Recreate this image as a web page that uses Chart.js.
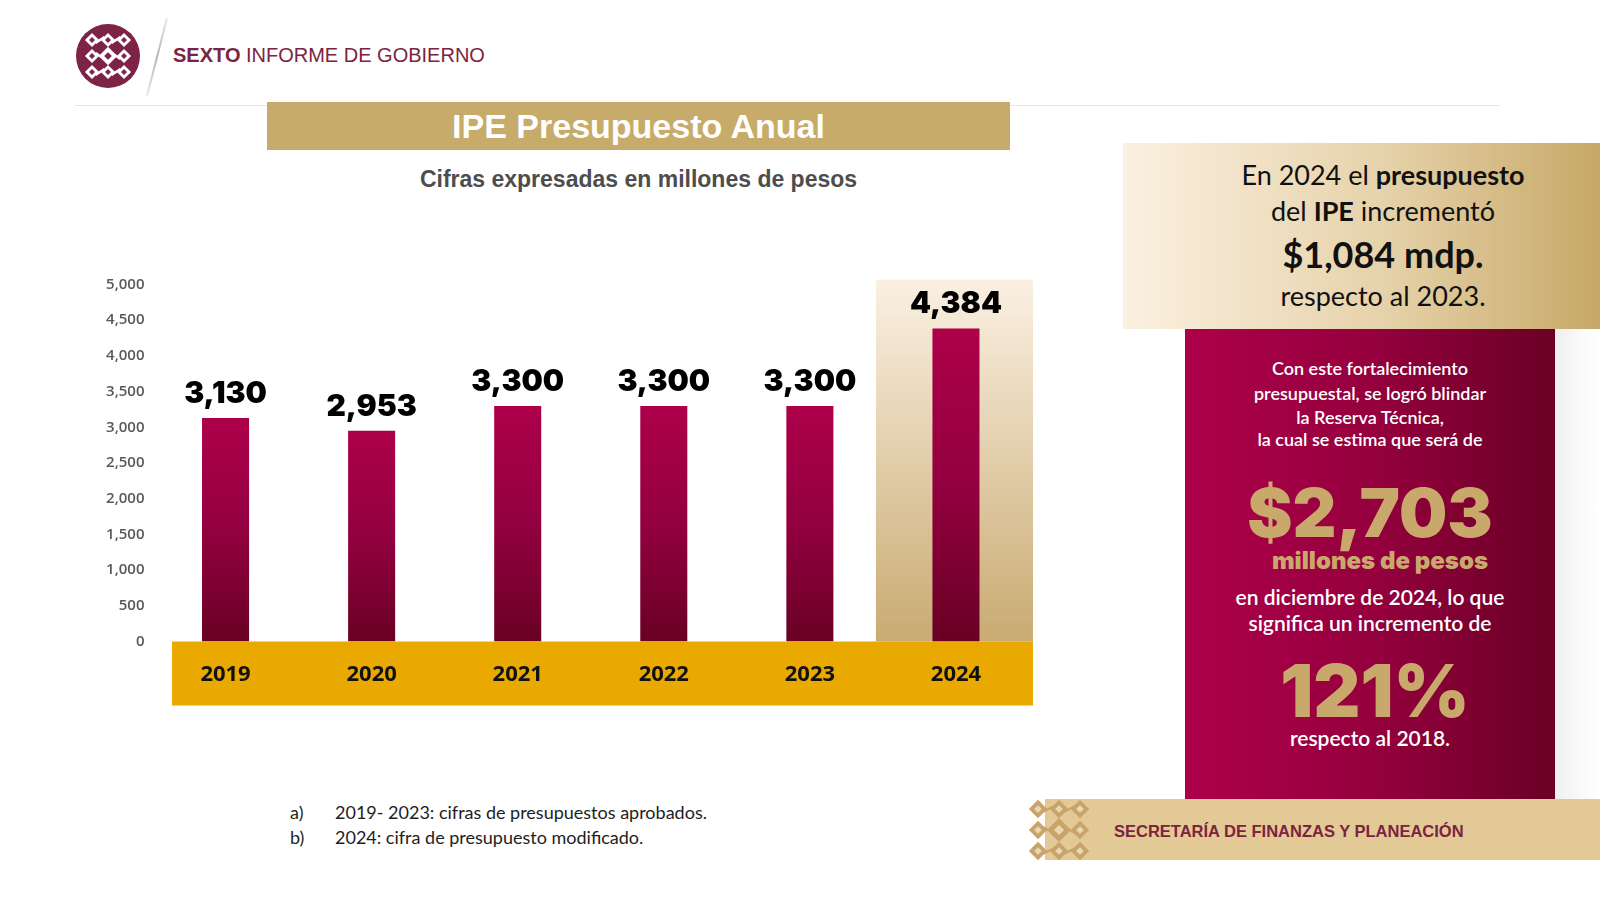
<!DOCTYPE html>
<html lang="es">
<head>
<meta charset="utf-8">
<title>IPE Presupuesto Anual</title>
<script src="https://cdn.jsdelivr.net/npm/chart.js@4.4.1/dist/chart.umd.min.js"></script>
<style>
  html, body { margin: 0; padding: 0; background: #fff; }
  body { width: 1600px; height: 900px; position: relative; overflow: hidden; font-family: "Liberation Sans", Arial, sans-serif; }
  .abs { position: absolute; white-space: nowrap; }
  .c { text-align: center; }
  .lato { font-family: Lato, "Open Sans", sans-serif; }
  .black { font-family: Inter, "DejaVu Sans", sans-serif; font-weight: 900; }
  #chartBox { position: absolute; left: 80px; top: 260px; width: 980px; height: 460px; }
</style>
</head>
<body>

<!-- encabezado -->
<svg class="abs" style="left:0;top:0" width="200" height="110">
  <defs>
    <linearGradient id="slash" x1="0" y1="0" x2="0" y2="1">
      <stop offset="0" stop-color="#e8e8e8"/>
      <stop offset="0.5" stop-color="#b5b5b5"/>
      <stop offset="1" stop-color="#e8e8e8"/>
    </linearGradient>
  </defs>
  <circle cx="108" cy="56" r="32" fill="#7d2446"/>
  <g id="logoPat" fill="#fff"></g>
  <line x1="167" y1="18" x2="147" y2="96" stroke="url(#slash)" stroke-width="2"/>
</svg>
<div class="abs" style="left:173px;top:43px;font-size:20px;line-height:24px;color:#7b2340;"><b>SEXTO</b> INFORME DE GOBIERNO</div>
<div class="abs" style="left:75px;top:105px;width:1425px;height:1px;background:#e6e6e6;"></div>

<!-- titulo -->
<div class="abs c" style="left:267px;top:102px;width:743px;height:48px;line-height:48px;background:#c7ab6a;color:#fff;font-weight:bold;font-size:34px;">IPE Presupuesto Anual</div>
<div class="abs c" style="left:267px;top:164px;width:743px;line-height:30px;font-size:23px;font-weight:bold;color:#4d4d4d;">Cifras expresadas en millones de pesos</div>

<div id="chartBox"><canvas id="grafica" width="980" height="460"></canvas></div>

<!-- notas -->
<div class="abs lato" style="left:290px;top:800px;font-size:18px;line-height:24px;color:#1e1e1e;">a)</div>
<div class="abs lato" style="left:335px;top:800px;font-size:18px;line-height:24px;color:#1e1e1e;">2019- 2023: cifras de presupuestos aprobados.</div>
<div class="abs lato" style="left:290px;top:825px;font-size:18px;line-height:24px;color:#1e1e1e;">b)</div>
<div class="abs lato" style="left:335px;top:825px;font-size:18px;line-height:24px;color:#1e1e1e;">2024: cifra de presupuesto modificado.</div>

<!-- panel derecho -->
<div class="abs" style="left:1123px;top:143px;width:477px;height:186px;background:linear-gradient(to right,#fbf1e1,#e6d2aa 55%,#c6a766);"></div>
<div class="abs lato c" style="left:1123px;width:520px;top:160px;font-size:27px;line-height:30px;color:#111;">En 2024 el <b>presupuesto</b></div>
<div class="abs lato c" style="left:1123px;width:520px;top:196px;font-size:27px;line-height:30px;color:#111;">del <b>IPE</b> incrementó</div>
<div class="abs lato c" style="left:1123px;width:520px;top:234px;font-size:36px;line-height:40px;color:#111;font-weight:bold;">$1,084 mdp.</div>
<div class="abs lato c" style="left:1123px;width:520px;top:281px;font-size:27px;line-height:30px;color:#111;">respecto al 2023.</div>

<div class="abs" style="left:1555px;top:329px;width:45px;height:471px;background:linear-gradient(to right,#efefef,#fafafa 60%,#fff);"></div>
<div class="abs" style="left:1185px;top:329px;width:370px;height:471px;background:linear-gradient(to right,#ad0049,#96003f 50%,#6a0024);"></div>
<div class="abs lato c" style="left:1185px;width:370px;top:357px;font-size:18px;line-height:22px;color:#fff;font-weight:600;">Con este fortalecimiento</div>
<div class="abs lato c" style="left:1185px;width:370px;top:382px;font-size:18px;line-height:22px;color:#fff;font-weight:600;">presupuestal, se logró blindar</div>
<div class="abs lato c" style="left:1185px;width:370px;top:406px;font-size:18px;line-height:22px;color:#fff;font-weight:600;">la Reserva Técnica,</div>
<div class="abs lato c" style="left:1185px;width:370px;top:428px;font-size:18px;line-height:22px;color:#fff;font-weight:600;">la cual se estima que será de</div>
<div class="abs black c" style="left:1185px;width:370px;top:472px;font-size:68px;line-height:80px;color:#c9a96b;">$2,703</div>
<div class="abs black c" style="left:1195px;width:370px;top:547px;font-size:24px;line-height:28px;color:#c9a96b;">millones de pesos</div>
<div class="abs lato c" style="left:1185px;width:370px;top:584px;font-size:21px;line-height:26px;color:#fff;font-weight:600;">en diciembre de 2024, lo que</div>
<div class="abs lato c" style="left:1185px;width:370px;top:610px;font-size:21px;line-height:26px;color:#fff;font-weight:600;">significa un incremento de</div>
<div class="abs black c" style="left:1190px;width:370px;top:649px;font-size:73px;line-height:84px;color:#c9a96b;">121%</div>
<div class="abs lato c" style="left:1185px;width:370px;top:725px;font-size:21px;line-height:26px;color:#fff;font-weight:600;">respecto al 2018.</div>

<!-- pie -->
<div class="abs" style="left:1045px;top:799px;width:555px;height:61px;background:#e2c996;"></div>
<svg class="abs" style="left:1022px;top:797px" width="74" height="66"><g id="piePat"></g></svg>
<div class="abs" style="left:1114px;top:820px;font-size:16.5px;line-height:22px;font-weight:bold;color:#7b2340;">SECRETARÍA DE FINANZAS Y PLANEACIÓN</div>

<script>
const years = ['2019', '2020', '2021', '2022', '2023', '2024'];
const presupuesto = [3130, 2953, 3300, 3300, 3300, 4384];
const yMin = 0;
const yMax = 5000;
const yStep = 500;
const resaltado = 5; // indice del 2024

// patron de rombos para los logos
function rombos(g, cx, cy, paso, tam, color, hueco) {
  const ns = 'http://www.w3.org/2000/svg';
  for (let i = -1; i <= 1; i++) {
    for (let j = -1; j <= 1; j++) {
      const x = cx + i * paso, y = cy + j * paso;
      const grande = (i === 0 && j === 0) ? 1.3 : 1;
      const r = document.createElementNS(ns, 'rect');
      const s = tam * grande;
      r.setAttribute('x', x - s / 2); r.setAttribute('y', y - s / 2);
      r.setAttribute('width', s); r.setAttribute('height', s);
      r.setAttribute('fill', color);
      r.setAttribute('transform', `rotate(45 ${x} ${y})`);
      g.appendChild(r);
      const h = document.createElementNS(ns, 'rect');
      const s2 = s * 0.42;
      h.setAttribute('x', x - s2 / 2); h.setAttribute('y', y - s2 / 2);
      h.setAttribute('width', s2); h.setAttribute('height', s2);
      h.setAttribute('fill', hueco);
      h.setAttribute('transform', `rotate(45 ${x} ${y})`);
      g.appendChild(h);
    }
  }
  for (let i = -1; i <= 0; i++) {
    for (let j = -1; j <= 1; j++) {
      const l = document.createElementNS(ns, 'line');
      l.setAttribute('x1', cx + i * paso + tam * 0.35); l.setAttribute('y1', cy + j * paso + (j % 2 ? 3 : -3));
      l.setAttribute('x2', cx + (i + 1) * paso - tam * 0.35); l.setAttribute('y2', cy + j * paso - (j % 2 ? 3 : -3));
      l.setAttribute('stroke', color); l.setAttribute('stroke-width', 2.5);
      g.appendChild(l);
    }
  }
}
rombos(document.getElementById('logoPat'), 108, 56, 16, 10, '#fff', '#7d2446');
rombos(document.getElementById('piePat'), 37, 33, 21, 13, '#c9a46a', '#e8d7b3');

Chart.defaults.font.family = '"Open Sans", sans-serif';

// fondo dorado de los años y recuadro del 2024
const fondos = {
  id: 'fondos',
  beforeDraw(chart) {
    const { ctx, chartArea, scales } = chart;
    const xs = scales.x, ys = scales.y;
    const bandaIzq = chartArea.left + 19.5;
    const bandaDer = chartArea.right + 4;
    ctx.save();
    ctx.fillStyle = '#eaa900';
    ctx.fillRect(bandaIzq, chartArea.bottom, bandaDer - bandaIzq, 64);
    const cx = xs.getPixelForValue(resaltado);
    const top = ys.getPixelForValue(yMax) - 5;
    const g = ctx.createLinearGradient(0, top, 0, chartArea.bottom);
    g.addColorStop(0, '#faf0e2');
    g.addColorStop(1, '#c9ab72');
    ctx.fillStyle = g;
    ctx.fillRect(cx - 80, top, bandaDer - (cx - 80), chartArea.bottom - top);
    ctx.restore();
  }
};

// etiquetas de valor sobre las barras
const etiquetas = {
  id: 'etiquetas',
  afterDatasetsDraw(chart) {
    const { ctx } = chart;
    const meta = chart.getDatasetMeta(0);
    ctx.save();
    ctx.font = '900 30px Inter, "DejaVu Sans", sans-serif';
    ctx.fillStyle = '#000';
    ctx.textAlign = 'center';
    ctx.textBaseline = 'alphabetic';
    meta.data.forEach((bar, i) => {
      ctx.fillText(presupuesto[i].toLocaleString('en-US'), bar.x, bar.y - 15);
    });
    ctx.restore();
  }
};

function colorBarra(context) {
  const chart = context.chart;
  if (!chart.chartArea || context.type !== 'data') return '#9a0040';
  const ys = chart.scales.y;
  const top = ys.getPixelForValue(context.raw);
  const bottom = ys.getPixelForValue(0);
  const g = chart.ctx.createLinearGradient(0, top, 0, bottom);
  g.addColorStop(0, '#ad004a');
  g.addColorStop(0.5, '#930040');
  g.addColorStop(1, '#690024');
  return g;
}

new Chart(document.getElementById('grafica'), {
  type: 'bar',
  data: {
    labels: years,
    datasets: [{
      label: 'Presupuesto',
      data: presupuesto,
      backgroundColor: colorBarra,
      borderWidth: 0,
      categoryPercentage: 1,
      barPercentage: 0.322
    }]
  },
  options: {
    responsive: false,
    animation: false,
    layout: { padding: { left: 0, right: 31, top: 24.5, bottom: 14.5 } },
    plugins: {
      legend: { display: false },
      tooltip: { enabled: false }
    },
    scales: {
      x: {
        grid: { display: false, drawTicks: false },
        border: { display: false },
        ticks: {
          color: '#111',
          font: { size: 22, weight: 'bold' },
          padding: 20
        },
        afterFit(scale) { scale.height = 64; }
      },
      y: {
        min: yMin,
        max: yMax,
        grid: { display: false, drawTicks: false },
        border: { display: false },
        ticks: {
          stepSize: yStep,
          color: '#595959',
          font: { size: 15, weight: '600' },
          padding: 8,
          callback: v => v.toLocaleString('en-US')
        },
        afterFit(scale) { scale.width = 72.5; }
      }
    }
  },
  plugins: [fondos, etiquetas]
});
</script>
</body>
</html>
